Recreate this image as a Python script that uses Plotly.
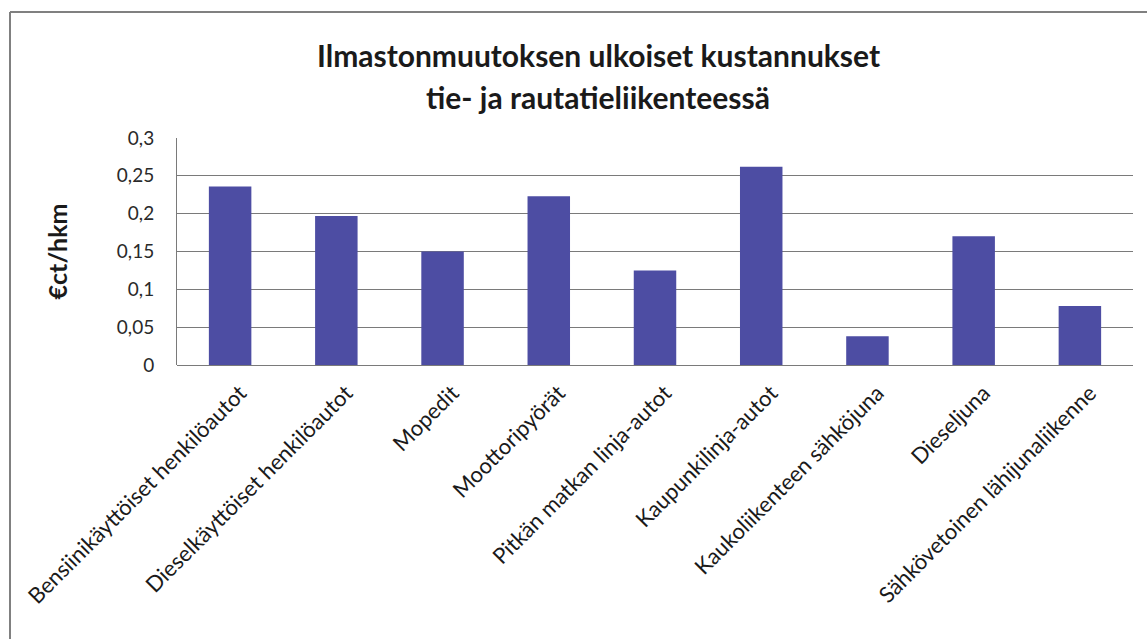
import plotly.graph_objects as go

# Climate change external costs by transport mode (€ct per passenger-km)
categories = [
    "Bensiinikäyttöiset henkilöautot",
    "Dieselkäyttöiset henkilöautot",
    "Mopedit",
    "Moottoripyörät",
    "Pitkän matkan linja-autot",
    "Kaupunkilinja-autot",
    "Kaukoliikenteen sähköjuna",
    "Dieseljuna",
    "Sähkövetoinen lähijunaliikenne",
]
costs = [0.236, 0.197, 0.150, 0.223, 0.125, 0.262, 0.038, 0.170, 0.078]

y_tickvals = [0, 0.05, 0.1, 0.15, 0.2, 0.25, 0.3]
y_ticktext = ["0", "0,05", "0,1", "0,15", "0,2", "0,25", "0,3"]

title_lines = ["Ilmastonmuutoksen ulkoiset kustannukset", "tie- ja rautatieliikenteessä"]
y_title = "€ct/hkm"

W, H = 1147, 639
ML, MR, MT, MB = 177, 14, 138, 274
PW, PH = W - ML - MR, H - MT - MB


def px_x(px):
    return (px - ML) / PW


def px_y(py):
    return (H - MB - py) / PH


FONT = "Lato, 'Open Sans', sans-serif"
TITLE_FONT = dict(family=FONT, size=30, color="#1a1a1a", weight="bold")

fig = go.Figure(
    go.Bar(
        x=categories,
        y=costs,
        marker=dict(color="#4d4da3", line=dict(width=0)),
        width=0.4,
    )
)

# two title lines placed separately for wider line spacing
title_annotations = [
    dict(
        text=line, xref="paper", yref="paper",
        x=px_x(598), y=px_y(cy), xanchor="center", yanchor="middle",
        showarrow=False, font=TITLE_FONT,
    )
    for line, cy in zip(title_lines, [55, 97])
]

fig.update_layout(
    width=W,
    height=H,
    margin=dict(l=ML, r=MR, t=MT, b=MB, autoexpand=False),
    paper_bgcolor="white",
    plot_bgcolor="white",
    showlegend=False,
    font=dict(family=FONT, color="#1a1a1a"),
    annotations=title_annotations,
    xaxis=dict(
        automargin=False,
        tickangle=-45,
        tickfont=dict(family=FONT, size=22, color="#1a1a1a"),
        ticklabelshift=10,
        ticklabelstandoff=10,
        showgrid=False,
        showline=False,
        ticks="",
    ),
    yaxis=dict(
        automargin=False,
        range=[0, 0.3],
        tickvals=y_tickvals,
        ticktext=y_ticktext,
        tickfont=dict(family=FONT, size=19, color="#2a2a2a"),
        ticklabelstandoff=18,
        showgrid=True,
        gridcolor="#7a7a7a",
        gridwidth=1,
        zeroline=True,
        zerolinecolor="#7a7a7a",
        zerolinewidth=1,
        showline=True,
        linecolor="#7a7a7a",
        linewidth=1,
        ticks="",
        title=dict(
            text=y_title,
            font=dict(family=FONT, size=25, color="#1a1a1a", weight="bold"),
            standoff=42,
        ),
    ),
    shapes=[
        # outer chart frame (top and left edges visible)
        dict(
            type="line", xref="paper", yref="paper",
            x0=px_x(10), x1=px_x(1160), y0=px_y(12), y1=px_y(12),
            line=dict(color="#808080", width=2),
        ),
        dict(
            type="line", xref="paper", yref="paper",
            x0=px_x(10), x1=px_x(10), y0=px_y(12), y1=px_y(660),
            line=dict(color="#808080", width=2),
        ),
    ],
)

fig.write_html("out.html")
